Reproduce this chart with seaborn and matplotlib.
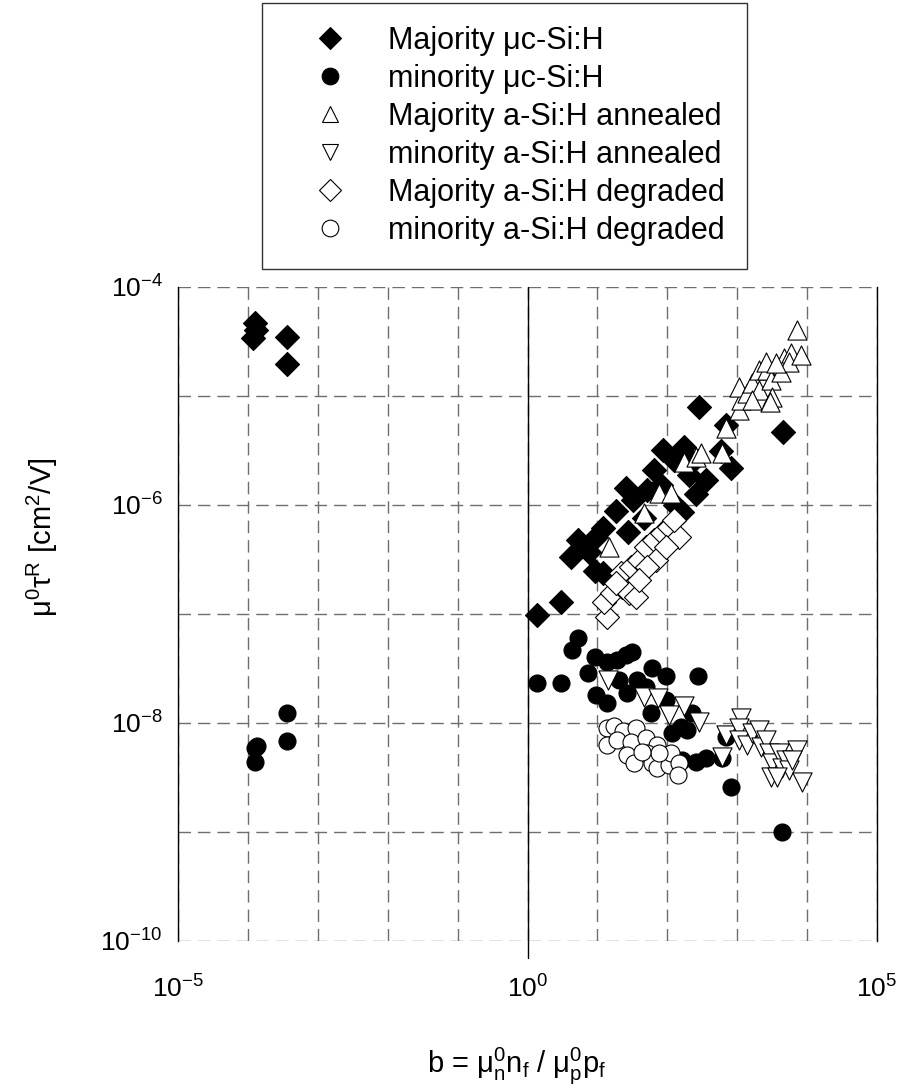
import numpy as np
import pandas as pd
import matplotlib
matplotlib.use("Agg")
import matplotlib.pyplot as plt
from matplotlib.ticker import FixedLocator, FuncFormatter, NullLocator
from matplotlib.lines import Line2D
import seaborn as sns

# ---- data: b (x) and mu0*tau_R (y) for each series ----
maj_uc_b = [0.000126, 0.000132, 0.000120, 0.000360, 0.000360,
            1.35, 3.06, 4.25, 5.2, 7.7, 9.1, 12.2, 9.4, 12.2, 18.7, 26, 32.7, 27.7,
            47, 65, 88, 126, 175, 228, 206, 361, 260, 164, 130, 82, 52, 286, 697,
            591, 820, 4540]
maj_uc_y = [4.7e-5, 4.0e-5, 3.4e-5, 3.5e-5, 1.97e-5,
            9.8e-8, 1.3e-7, 3.3e-7, 4.8e-7, 3.7e-7, 2.5e-7, 2.4e-7, 5.1e-7, 6.2e-7,
            8.8e-7, 1.43e-6, 1.11e-6, 5.6e-7, 7.6e-7, 2.1e-6, 3.2e-6, 2.6e-6,
            3.4e-6, 2.5e-6, 1.9e-6, 1.7e-6, 1.26e-6, 8.6e-7, 1.0e-6, 1.52e-6,
            1.37e-6, 7.9e-6, 5.4e-6, 3.1e-6, 2.2e-6, 4.7e-6]

min_uc_b = [0.000126, 0.000137, 0.000126, 0.000360, 0.000360,
            1.35, 3.06, 4.4, 5.2, 7.4, 9.1, 13.5, 19.3, 26, 31.6, 9.7, 13.5, 20.6,
            26.8, 37, 50, 61, 97, 59, 97, 118, 158, 193, 228, 277, 164, 260, 361,
            611, 697, 820, 4400]
min_uc_y = [5.9e-9, 6.1e-9, 4.4e-9, 1.23e-8, 6.8e-9,
            2.33e-8, 2.33e-8, 4.7e-8, 6.0e-8, 2.9e-8, 4.0e-8, 3.6e-8, 3.8e-8,
            4.2e-8, 4.5e-8, 1.81e-8, 1.52e-8, 2.5e-8, 1.88e-8, 2.5e-8, 2.14e-8,
            3.2e-8, 2.7e-8, 1.24e-8, 1.63e-8, 8.1e-9, 9.2e-9, 8.6e-9, 1.24e-8,
            2.7e-8, 4.6e-9, 4.4e-9, 4.8e-9, 4.8e-9, 7.4e-9, 2.6e-9, 1.0e-9]

maj_a_ann_b = [14.8, 47, 77, 114, 175, 260, 306, 611, 697, 1068, 1140, 1068, 1390,
               1640, 2060, 2060, 2680, 3060, 3160, 2900, 4250, 4690, 5900, 5530,
               8200, 7200, 2600, 3600, 1640]
maj_a_ann_y = [4.1e-7, 8.5e-7, 1.29e-6, 1.29e-6, 2.5e-6, 2.75e-6, 3.0e-6, 3.0e-6,
               5.1e-6, 7.4e-6, 9.2e-6, 1.21e-5, 1.07e-5, 1.32e-5, 1.14e-5, 1.73e-5,
               1.73e-5, 1.40e-5, 9.8e-6, 8.8e-6, 1.66e-5, 2.23e-5, 2.5e-5, 2.05e-5,
               2.38e-5, 4.0e-5, 2.05e-5, 2.0e-5, 9.2e-6]

min_a_ann_b = [14.4, 47, 74, 107, 175, 286, 611, 697, 1140, 1068, 1068, 1390, 1640,
               2060, 2200, 2600, 2870, 3160, 3060, 3980, 4400, 5010, 5530, 7200,
               6100, 8480, 3730]
min_a_ann_y = [2.5e-8, 1.73e-8, 1.70e-8, 1.18e-8, 1.43e-8, 1.02e-8, 4.9e-9, 7.8e-9,
               1.11e-8, 9.0e-9, 7.0e-9, 6.3e-9, 8.1e-9, 8.6e-9, 6.0e-9, 7.0e-9,
               5.3e-9, 4.3e-9, 3.2e-9, 5.3e-9, 3.9e-9, 4.6e-9, 3.7e-9, 5.6e-9,
               4.6e-9, 2.9e-9, 3.2e-9]

maj_a_deg_b = [13.9, 12.6, 16.4, 22.8, 28.6, 36, 22, 30.6, 40, 50, 65, 85, 107,
               148, 126, 70, 52, 97, 18.7, 40]
maj_a_deg_y = [9.4e-8, 1.29e-7, 1.56e-7, 1.77e-7, 1.56e-7, 1.43e-7, 2.4e-7, 2.7e-7,
               3.1e-7, 4.1e-7, 4.8e-7, 5.5e-7, 6.3e-7, 5.1e-7, 7.3e-7, 3.1e-7,
               2.7e-7, 4.1e-7, 1.92e-7, 2.05e-7]

min_a_deg_b = [13.5, 17.5, 23.5, 36, 13.9, 19.3, 30.6, 26.8, 33.8, 50, 72, 52, 61,
               72, 107, 114, 148, 144, 77, 44]
min_a_deg_y = [9.0e-9, 9.4e-9, 8.4e-9, 9.0e-9, 6.3e-9, 7.0e-9, 6.7e-9, 5.1e-9,
               4.3e-9, 7.3e-9, 6.3e-9, 5.3e-9, 4.3e-9, 3.9e-9, 4.1e-9, 5.3e-9,
               4.3e-9, 3.3e-9, 5.3e-9, 5.4e-9]

labels = ["Majority μc-Si:H", "minority μc-Si:H", "Majority a-Si:H annealed",
          "minority a-Si:H annealed", "Majority a-Si:H degraded",
          "minority a-Si:H degraded"]

# labelled decades; the grid runs through every decade
xtick_exp = [-5, 0, 5]
ytick_exp = [-10, -8, -6, -4]
xgrid_exp = list(range(-5, 6))
ygrid_exp = list(range(-10, -3))

# ---- style ----
sns.set_style("white")
plt.rcParams["font.family"] = ["Liberation Sans", "DejaVu Sans"]
plt.rcParams["mathtext.fontset"] = "custom"
plt.rcParams["mathtext.rm"] = "Liberation Sans"
plt.rcParams["mathtext.it"] = "Liberation Sans:italic"
plt.rcParams["mathtext.sf"] = "Liberation Sans"
plt.rcParams["mathtext.default"] = "regular"
for key in ("text.color", "axes.labelcolor", "xtick.color", "ytick.color"):
    plt.rcParams[key] = "black"

series = [
    (maj_uc_b, maj_uc_y, "D", "black", 150),
    (min_uc_b, min_uc_y, "o", "black", 150),
    (maj_a_ann_b, maj_a_ann_y, "^", "white", 190),
    (min_a_ann_b, min_a_ann_y, "v", "white", 190),
    (maj_a_deg_b, maj_a_deg_y, "D", "white", 150),
    (min_a_deg_b, min_a_deg_y, "o", "white", 150),
]

frames = []
for (bx, by, *_), lab in zip(series, labels):
    frames.append(pd.DataFrame({"b": bx, "mt": by, "series": lab}))
df = pd.concat(frames, ignore_index=True)

fig = plt.figure(figsize=(8.97, 10.90), dpi=100)
ax = fig.add_axes([178 / 897, 1 - 941 / 1090, 699 / 897, 654 / 1090])

for (bx, by, mk, fc, sz), lab in zip(series, labels):
    sub = df[df["series"] == lab]
    sns.scatterplot(data=sub, x="b", y="mt", marker=mk, s=sz, color=fc,
                    edgecolor="black", linewidth=0.8, ax=ax,
                    zorder=3, legend=False)

ax.set_xscale("log")
ax.set_yscale("log")
ax.set_xlim(1e-5, 1e5)
ax.set_ylim(1e-10, 1e-4)


def decade_label(shown):
    def fmt(v, pos):
        e = int(round(np.log10(v)))
        return f"10$^{{{e}}}$" if e in shown else ""
    return FuncFormatter(fmt)


ax.xaxis.set_major_locator(FixedLocator([10.0 ** e for e in xgrid_exp]))
ax.yaxis.set_major_locator(FixedLocator([10.0 ** e for e in ygrid_exp]))
ax.xaxis.set_minor_locator(NullLocator())
ax.yaxis.set_minor_locator(NullLocator())
ax.xaxis.set_major_formatter(decade_label(xtick_exp))
ax.yaxis.set_major_formatter(decade_label(ytick_exp))

ax.grid(True, which="major", color="#6e6e6e", linestyle=(0, (9, 5)), linewidth=1.0)
ax.tick_params(which="both", length=0, labelsize=19, colors="black")
ax.tick_params(axis="x", pad=25)
ax.tick_params(axis="y", pad=11)

for side in ("top", "bottom"):
    ax.spines[side].set_visible(False)
for side in ("left", "right"):
    ax.spines[side].set_color("black")
    ax.spines[side].set_linewidth(1.0)

# solid line at b = 1 with a short tick below the frame
ax.axvline(1.0, ymin=-0.026, ymax=1.0, color="black", linewidth=1.0,
           clip_on=False, zorder=2)

ax.set_xlabel(r"b = $\mu^0_n$n$_f$ / $\mu^0_p$p$_f$", fontsize=21)
ax.set_ylabel(r"$\mu^0\tau^R$ [cm$^2$/V]", fontsize=21)
ax.xaxis.set_label_coords(0.485, -0.159)
ax.yaxis.set_label_coords(-0.169, 0.618)

# legend above the plot
handles = [Line2D([], [], linestyle="none", marker=mk,
                  markersize=(11 if mk == "D" else 12 if mk == "o" else 11),
                  markerfacecolor=fc, markeredgecolor="black", markeredgewidth=0.8)
           for (_, _, mk, fc, _) in series]
leg = fig.legend(handles, labels, loc="upper left",
                 bbox_to_anchor=(262 / 897, 1 - 3 / 1090), fontsize=22,
                 frameon=True, fancybox=False, edgecolor="black",
                 labelspacing=0.26, handletextpad=0.42, borderpad=0.75,
                 handlelength=2.94, borderaxespad=0)
leg.get_frame().set_linewidth(1.0)
for t in leg.get_texts():
    t.set_color("black")

fig.savefig("out.png", dpi=100, facecolor="white")
